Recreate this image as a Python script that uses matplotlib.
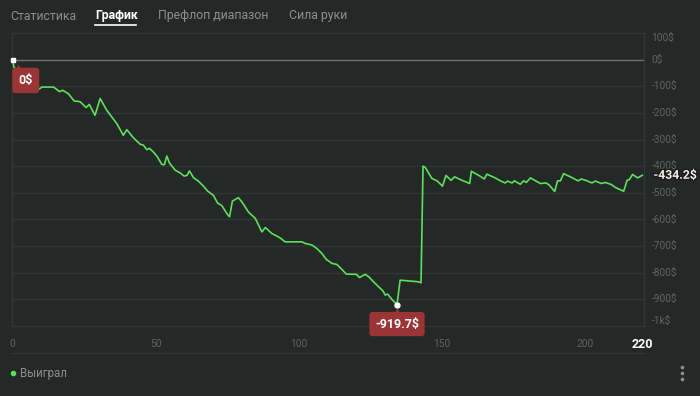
import matplotlib
matplotlib.use('Agg')
import matplotlib.pyplot as plt
import matplotlib.transforms as mtransforms
import matplotlib.patheffects as pe

plt.rcParams['font.family'] = ['Roboto', 'DejaVu Sans']

# Hand number / cumulative winnings ($)
hands = [0, 0.5, 2.6, 6.1, 9.4, 10.2, 14.3, 16.4, 17.5, 19.5, 21.5, 23.6, 25.7, 26.8, 28.8,
         30.6, 32.9, 36.4, 38.7, 39.9, 42.2, 44.6, 45.7, 46.9, 47.8, 49.2, 50.6, 52.1, 53.0,
         53.9, 54.8, 56.8, 58.5, 59.9, 60.9, 61.8, 63.2, 64.9, 66.7, 68.1, 70.2, 71.6, 73.1,
         74.9, 75.8, 76.8, 78.9, 80.1, 82.4, 84.8, 87.1, 88.3, 90.6, 92.3, 93.7, 95.2, 101.1,
         102.2, 104.6, 106.3, 108.1, 109.6, 111.6, 113.3, 115.1, 116.6, 120.1, 121.2, 123.2,
         124.4, 126.1, 127.9, 129.4, 130.2, 131.0, 132.5, 134.3, 135.4, 141.8, 142.7, 143.4,
         144.2, 146.5, 148.3, 150.2, 151.4, 153.2, 154.4, 157.0, 159.7, 160.3, 163.4, 164.8,
         165.7, 168.6, 170.4, 172.1, 172.9, 174.5, 175.3, 177.4, 178.5, 179.5, 180.9, 184.4,
         186.4, 187.5, 189.4, 190.4, 191.4, 192.5, 194.9, 197.6, 198.7, 200.7, 202.4, 203.6,
         205.7, 207.1, 209.2, 210.6, 213.5, 214.7, 215.5, 216.6, 218.4, 220]
winnings = [0, -28, -59, -93, -110, -103, -103, -120, -115, -128, -155, -158, -180, -168, -209,
            -146, -190, -240, -284, -263, -293, -318, -321, -338, -333, -347, -365, -393, -395,
            -362, -388, -415, -425, -437, -435, -418, -443, -456, -475, -493, -510, -538, -548,
            -578, -590, -531, -518, -534, -572, -596, -647, -630, -653, -662, -671, -684, -684,
            -690, -696, -709, -728, -750, -765, -769, -788, -805, -806, -818, -806,
            -815, -834, -853, -868, -884, -880, -900, -919.7, -828, -834, -838, -400,
            -405, -446, -455, -475, -435, -453, -440, -453, -465, -419, -438, -448,
            -430, -444, -455, -463, -456, -463, -455, -468, -455, -461, -444, -465,
            -463, -471, -495, -455, -455, -428, -440, -455, -448, -455, -463, -456,
            -465, -461, -469, -480, -494, -453, -450, -431, -444, -434.2]

y_ticks = [100, 0, -100, -200, -300, -400, -500, -600, -700, -800, -900, -1000]
y_labels = ['100$', '0$', '-100$', '-200$', '-300$', '-400$', '-500$', '-600$', '-700$',
            '-800$', '-900$', '-1k$']
x_ticks = [0, 50, 100, 150, 200]
tabs = ['Статистика', 'График', 'Префлоп диапазон', 'Сила руки']
tab_x = [10, 95, 158, 289]

bg = '#242927'
grid_c = '#30363a'
muted = '#5e6462'
tab_c = '#8b908e'
green = '#5de05a'
red = '#9b3535'

fig = plt.figure(figsize=(7, 3.96), dpi=100, facecolor=bg)
W, H = 700, 396
ax = fig.add_axes([12 / W, 1 - 326 / H, 632 / W, 293 / H], facecolor=bg)
ax.set_xlim(-0.2, 220.6)
ax.set_ylim(-1000, 100)
for s in ax.spines.values():
    s.set_color(grid_c)
    s.set_linewidth(1)
ax.set_xticks([])
ax.set_yticks([])

for v in y_ticks[2:-1]:
    ax.axhline(v, color=grid_c, lw=1, zorder=1)
ax.axhline(0, color='#6e7371', lw=1, zorder=1)

ax.plot(hands, winnings, color=green, lw=1.2, zorder=3, solid_joinstyle='round')

# y labels at right
ytrans = mtransforms.blended_transform_factory(ax.transAxes, ax.transData)
for v, lab in zip(y_ticks, y_labels):
    va = 'center'
    if v == 100:
        va = 'top'
    elif v == -1000:
        va = 'bottom'
    ax.text(1.012, v, lab, transform=ytrans, color=muted, fontsize=7.3, ha='left', va=va)

ax.text(1.015, winnings[-1], '-434.2$', transform=ytrans, color='#f6ebe8', fontsize=8.8,
        fontweight='bold', ha='left', va='center', zorder=5,
        path_effects=[pe.withStroke(linewidth=2, foreground='#1a1d1c')])

# x labels below
xtrans = mtransforms.blended_transform_factory(ax.transData, fig.transFigure)
for v in x_ticks:
    ax.text(v, 1 - 344 / H, str(v), transform=xtrans, color=muted, fontsize=7.3,
            ha='center', va='center')
ax.text(220, 1 - 344 / H, '220', transform=xtrans, color='white', fontsize=9,
        fontweight='bold', ha='center', va='center')

# markers and price labels
ax.plot([0], [0], marker='s', ms=2.5, color='white', zorder=6, clip_on=False)
ax.plot([134.3], [-919.7], marker='o', ms=3.5, color='white', zorder=6)

tri0 = mtransforms.offset_copy(ax.transData, fig=fig, x=5.5, y=-8, units='dots')
ax.plot([0], [0], marker='^', ms=6, color=red, mec='none', transform=tri0, zorder=6,
        clip_on=False)
ax.annotate('0$', xy=(0, 0), xytext=(9.5, -15), textcoords='offset points', ha='center',
            va='center', color='white', fontsize=9, fontweight='bold', zorder=7,
            bbox=dict(boxstyle='round,pad=0.5,rounding_size=0.25', fc=red, ec='none'))

tri1 = mtransforms.offset_copy(ax.transData, fig=fig, x=0, y=-7, units='dots')
ax.plot([134.3], [-919.7], marker='^', ms=6, color=red, mec='none', transform=tri1,
        zorder=6, clip_on=False)
ax.annotate('-919.7$', xy=(134.3, -919.7), xytext=(0, -14), textcoords='offset points',
            ha='center', va='center', color='white', fontsize=9, fontweight='bold',
            zorder=7, annotation_clip=False,
            bbox=dict(boxstyle='round,pad=0.45,rounding_size=0.25', fc=red, ec='none'))

# tabs at top
for x, t in zip(tab_x, tabs):
    bold = t == 'График'
    fig.text(x / W, 1 - 16 / H, t, color='white' if bold else tab_c, fontsize=8.8,
             fontweight='bold' if bold else 'normal', ha='left', va='center')
fig.add_artist(plt.Line2D([95 / W, 136 / W], [1 - 25 / H, 1 - 25 / H], color='white',
                          lw=1.2, transform=fig.transFigure))

# separator and legend
fig.add_artist(plt.Line2D([12 / W, 644 / W], [1 - 353 / H, 1 - 353 / H], color=grid_c,
                          lw=1, transform=fig.transFigure))
fig.add_artist(plt.Line2D([13 / W], [1 - 373 / H], marker='o', ms=3, color=green,
                          transform=fig.transFigure))
fig.text(20 / W, 1 - 373 / H, 'Выиграл', color=tab_c, fontsize=8.3, ha='left', va='center')
fig.add_artist(plt.Line2D([682 / W] * 3, [1 - 367 / H, 1 - 373 / H, 1 - 379 / H],
                          ls='none', marker='o', ms=1.6, color=tab_c,
                          transform=fig.transFigure))

fig.savefig('out.png', dpi=100, facecolor=bg)
